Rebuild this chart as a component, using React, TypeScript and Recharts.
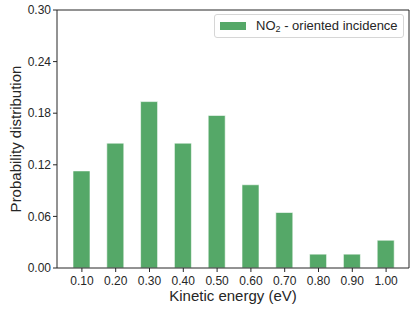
import { BarChart, Bar, XAxis, YAxis } from "recharts";

const energies = ["0.10", "0.20", "0.30", "0.40", "0.50", "0.60", "0.70", "0.80", "0.90", "1.00"];
const probabilities = [0.1129, 0.1452, 0.1935, 0.1452, 0.1774, 0.0968, 0.0645, 0.0161, 0.0161, 0.0323];
const yTicks = [0, 0.06, 0.12, 0.18, 0.24, 0.3];
const seriesName = { base: "NO", sub: "2", rest: " - oriented incidence" };

const FONT = '"Liberation Sans", Arial, sans-serif';
const INK = "#262626";
const GREEN = "#55a868";

const data = energies.map((e, i) => ({ energy: e, p: probabilities[i] }));

function LegendBox() {
  return (
    <div
      style={{
        position: "absolute",
        left: 214,
        top: 14,
        width: 188,
        height: 22,
        border: "1px solid #d6d6d6",
        borderRadius: 3,
        background: "#fff",
        display: "flex",
        alignItems: "center",
        fontFamily: FONT,
        fontSize: 13,
        color: INK,
      }}
    >
      <span style={{ display: "inline-block", width: 26, height: 8, background: GREEN, marginLeft: 5, marginRight: 10 }} />
      <span>
        {seriesName.base}
        <sub style={{ fontSize: 9, verticalAlign: -2 }}>{seriesName.sub}</sub>
        {seriesName.rest}
      </span>
    </div>
  );
}

export default function App() {
  return (
    <div style={{ position: "absolute", left: 0, top: 0, width: 415, height: 312, background: "#fff" }}>
      <BarChart width={415} height={312} data={data} margin={{ top: 9, right: 5, bottom: 0, left: 0 }}>
        <XAxis
          dataKey="energy"
          height={44}
          padding={{ left: 8, right: 6 }}
          tickSize={4}
          tickMargin={4}
          stroke={INK}
          tick={{ fontSize: 12, fill: INK, fontFamily: FONT }}
          label={{ value: "Kinetic energy (eV)", position: "insideBottom", offset: 11, style: { fontSize: 15, fill: INK, fontFamily: FONT } }}
        />
        <XAxis xAxisId="top" dataKey="energy" orientation="top" height={1} tick={false} tickLine={false} stroke={INK} />
        <YAxis
          domain={[0, 0.3]}
          ticks={yTicks}
          width={57}
          tickSize={4}
          tickMargin={2}
          stroke={INK}
          tickFormatter={(v: number) => v.toFixed(2)}
          tick={{ fontSize: 12, fill: INK, fontFamily: FONT }}
          label={{
            value: "Probability distribution",
            angle: -90,
            position: "insideLeft",
            offset: 16,
            style: { fontSize: 15, fill: INK, fontFamily: FONT, textAnchor: "middle" },
          }}
        />
        <YAxis yAxisId="right" orientation="right" width={1} domain={[0, 0.3]} tick={false} tickLine={false} stroke={INK} />
        <Bar dataKey="p" fill={GREEN} stroke="#ffffff" strokeOpacity={0.6} strokeWidth={1} barSize={17} isAnimationActive={false} />
      </BarChart>
      <LegendBox />
    </div>
  );
}
